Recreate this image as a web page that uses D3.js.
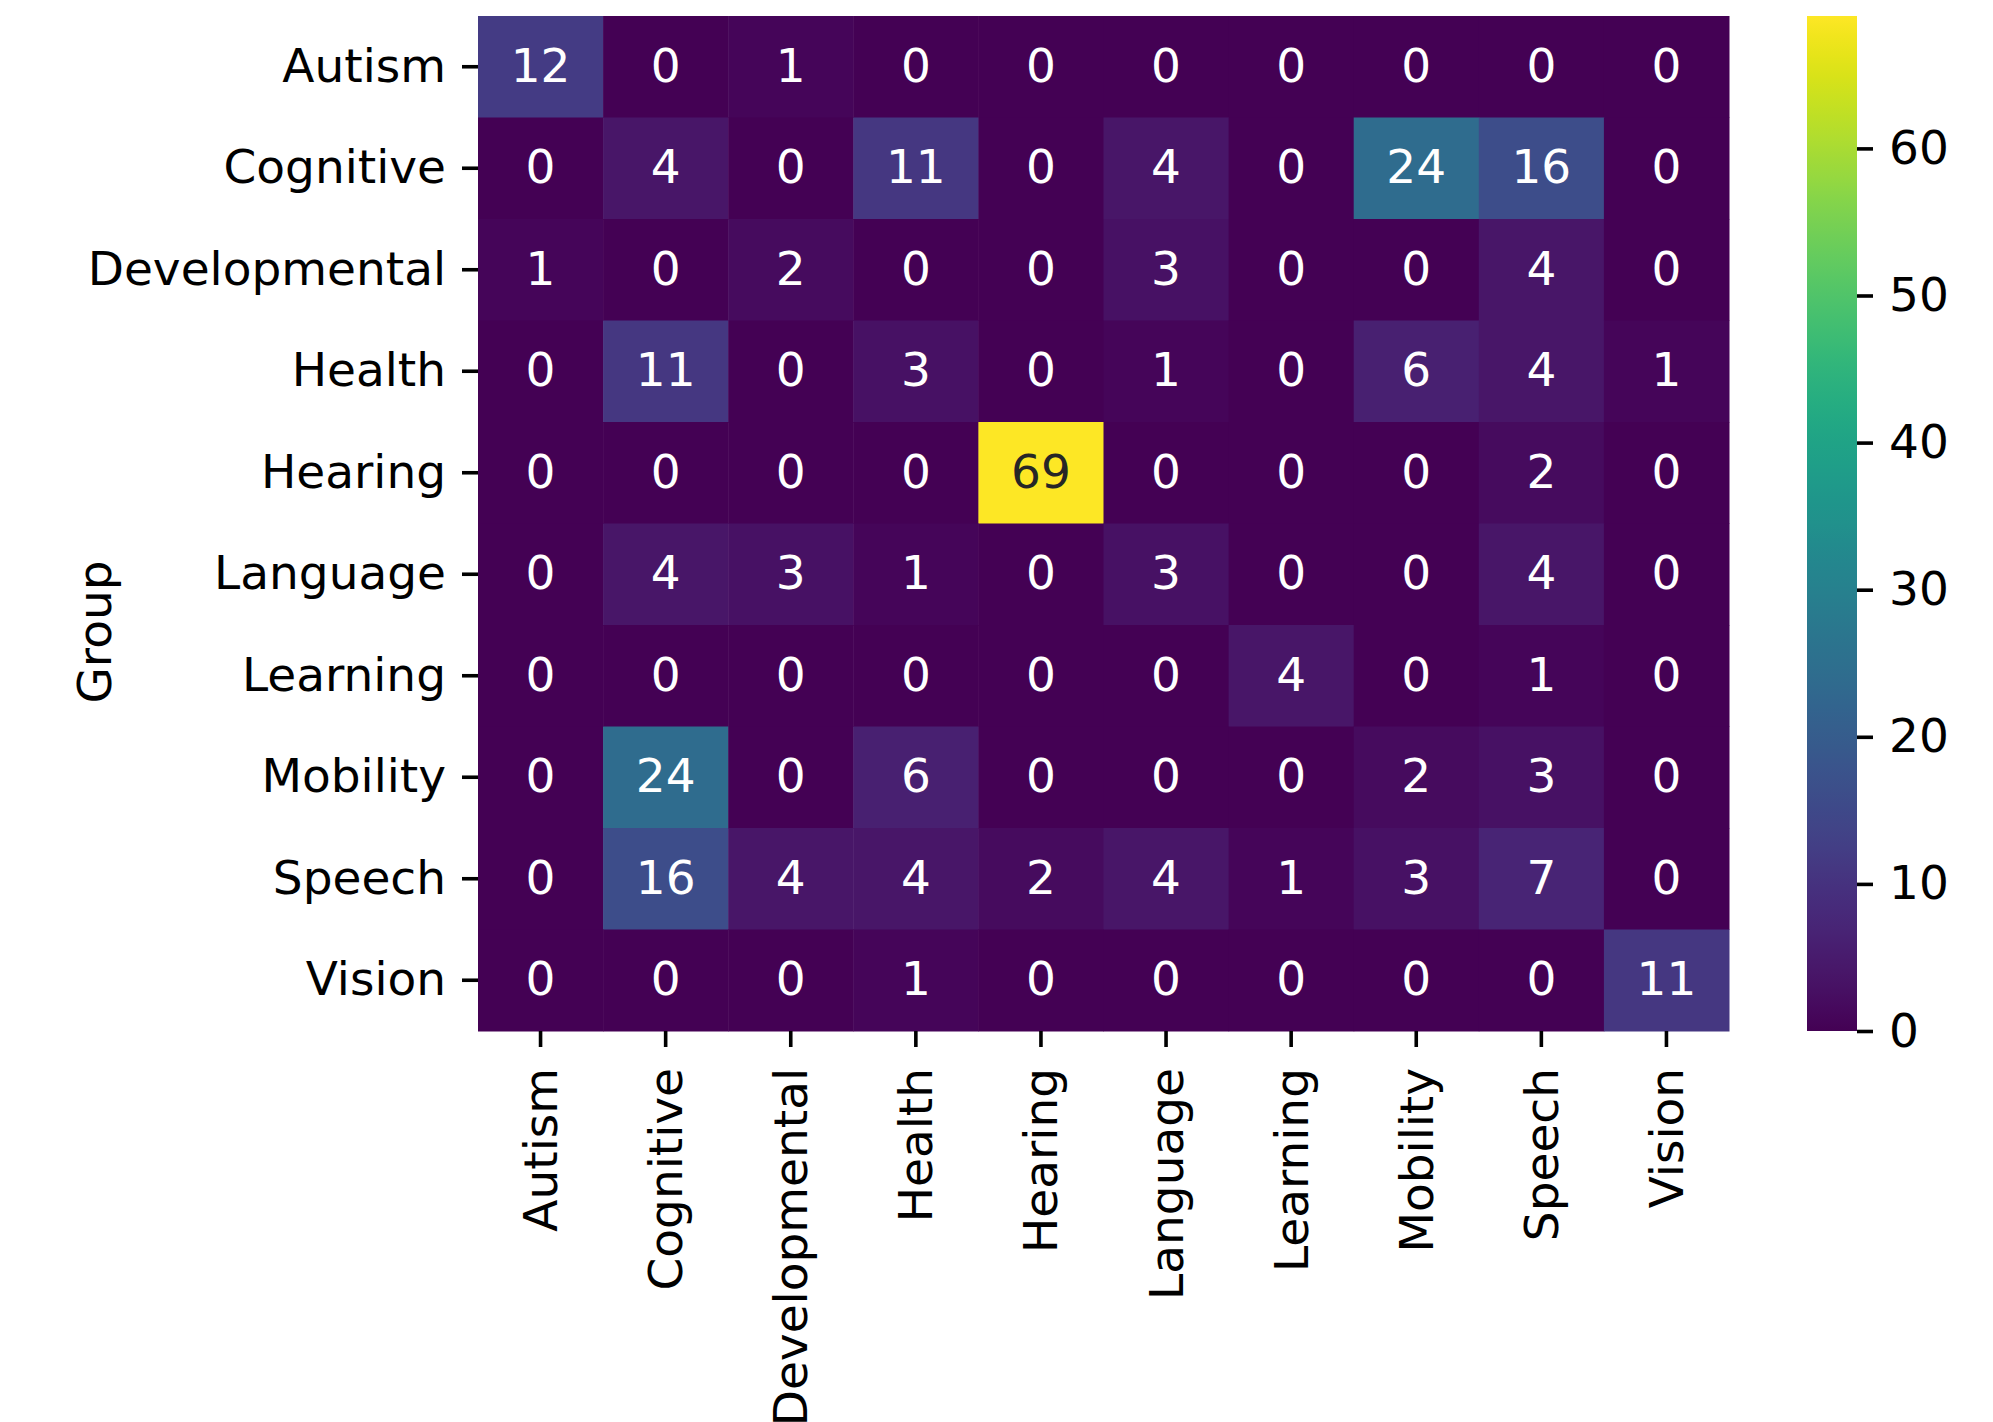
<!DOCTYPE html>
<html>
<head>
<meta charset="utf-8">
<script src="https://cdn.jsdelivr.net/npm/d3@7"></script>
<style>
  html, body { margin: 0; padding: 0; background: #fff; }
  svg { display: block; font-family: "DejaVu Sans", sans-serif; }
</style>
</head>
<body>
<svg id="chart" width="1993" height="1422"></svg>
<script>
// ---- data ----
const rowLabels = ["Autism","Cognitive","Developmental","Health","Hearing","Language","Learning","Mobility","Speech","Vision"];
const colLabels = ["Autism","Cognitive","Developmental","Health","Hearing","Language","Learning","Mobility","Speech","Vision"];
const rowAutism        = [12, 0, 1, 0, 0, 0, 0, 0, 0, 0];
const rowCognitive     = [ 0, 4, 0,11, 0, 4, 0,24,16, 0];
const rowDevelopmental = [ 1, 0, 2, 0, 0, 3, 0, 0, 4, 0];
const rowHealth        = [ 0,11, 0, 3, 0, 1, 0, 6, 4, 1];
const rowHearing       = [ 0, 0, 0, 0,69, 0, 0, 0, 2, 0];
const rowLanguage      = [ 0, 4, 3, 1, 0, 3, 0, 0, 4, 0];
const rowLearning      = [ 0, 0, 0, 0, 0, 0, 4, 0, 1, 0];
const rowMobility      = [ 0,24, 0, 6, 0, 0, 0, 2, 3, 0];
const rowSpeech        = [ 0,16, 4, 4, 2, 4, 1, 3, 7, 0];
const rowVision        = [ 0, 0, 0, 1, 0, 0, 0, 0, 0,11];
const colorbarTicks = [0, 10, 20, 30, 40, 50, 60];
const yAxisTitle = "Group";

(function () {
const matrix = [rowAutism,rowCognitive,rowDevelopmental,rowHealth,rowHearing,rowLanguage,rowLearning,rowMobility,rowSpeech,rowVision];
const cells = [];
matrix.forEach((row, i) => row.forEach((v, j) => cells.push({r: rowLabels[i], c: colLabels[j], v})));
const vmax = d3.max(cells, d => d.v);

// ---- layout ----
const mLeft = 478, mRight = 1729, mTop = 16, mBottom = 1031;
const cbLeft = 1807, cbRight = 1857;
const fontSize = 47;
const dyc = "0.32em";
const tickLen = 16, tickW = 3.6, pad = 16;

const svg = d3.select("#chart");
const x = d3.scaleBand().domain(colLabels).range([mLeft, mRight]).padding(0);
const y = d3.scaleBand().domain(rowLabels).range([mTop, mBottom]).padding(0);
const color = d3.scaleSequential(d3.interpolateViridis).domain([0, vmax]);

// cells
svg.append("g").selectAll("rect").data(cells).join("rect")
  .attr("x", d => x(d.c)).attr("y", d => y(d.r))
  .attr("width", x.bandwidth() + 0.5).attr("height", y.bandwidth() + 0.5)
  .attr("fill", d => color(d.v));

// annotations
function lum(c) {
  const rgb = d3.rgb(c);
  const f = v => { v /= 255; return v <= 0.03928 ? v / 12.92 : Math.pow((v + 0.055) / 1.055, 2.4); };
  return 0.2126 * f(rgb.r) + 0.7152 * f(rgb.g) + 0.0722 * f(rgb.b);
}
svg.append("g").selectAll("text").data(cells).join("text")
  .attr("x", d => x(d.c) + x.bandwidth() / 2)
  .attr("y", d => y(d.r) + y.bandwidth() / 2)
  .attr("dy", dyc)
  .attr("text-anchor", "middle")
  .attr("font-size", fontSize)
  .attr("fill", d => lum(color(d.v)) > 0.408 ? "#262626" : "#ffffff")
  .text(d => d.v);

// y axis
const yAxis = d3.axisLeft(y).tickSize(tickLen).tickPadding(pad);
const gy = svg.append("g").attr("transform", `translate(${mLeft},0)`).call(yAxis);
gy.select(".domain").remove();
gy.selectAll(".tick line").attr("stroke", "#000").attr("stroke-width", tickW);
gy.selectAll(".tick text").attr("font-size", fontSize).attr("fill", "#000")
  .attr("font-family", "DejaVu Sans").attr("dy", dyc);

// x axis
const xAxis = d3.axisBottom(x).tickSize(tickLen).tickPadding(pad);
const gx = svg.append("g").attr("transform", `translate(0,${mBottom})`).call(xAxis);
gx.select(".domain").remove();
gx.selectAll(".tick line").attr("stroke", "#000").attr("stroke-width", tickW);
gx.selectAll(".tick text").attr("font-size", fontSize).attr("fill", "#000")
  .attr("font-family", "DejaVu Sans")
  .attr("text-anchor", "end")
  .attr("transform", `translate(0,${tickLen + pad + 5}) rotate(-90)`)
  .attr("x", 0).attr("y", 0).attr("dy", "0.35em");

// y axis title
svg.append("text")
  .attr("transform", `translate(95,632) rotate(-90)`)
  .attr("text-anchor", "middle").attr("dy", "0.35em")
  .attr("font-size", fontSize).attr("fill", "#000")
  .text(yAxisTitle);

// colorbar
const cbScale = d3.scaleLinear().domain([0, vmax]).range([mBottom, mTop]);
const defs = svg.append("defs");
const grad = defs.append("linearGradient").attr("id", "cbgrad")
  .attr("x1", 0).attr("y1", 1).attr("x2", 0).attr("y2", 0);
d3.range(0, 1.0001, 0.02).forEach(t => {
  grad.append("stop").attr("offset", t).attr("stop-color", color(t * vmax));
});
svg.append("rect").attr("x", cbLeft).attr("y", mTop)
  .attr("width", cbRight - cbLeft).attr("height", mBottom - mTop)
  .attr("fill", "url(#cbgrad)");
const cbAxis = d3.axisRight(cbScale).tickValues(colorbarTicks).tickSize(tickLen).tickPadding(pad);
const gcb = svg.append("g").attr("transform", `translate(${cbRight},0)`).call(cbAxis);
gcb.select(".domain").remove();
gcb.selectAll(".tick line").attr("stroke", "#000").attr("stroke-width", tickW);
gcb.selectAll(".tick text").attr("font-size", fontSize).attr("fill", "#000")
  .attr("font-family", "DejaVu Sans").attr("dy", dyc);
})();
</script>
</body>
</html>
